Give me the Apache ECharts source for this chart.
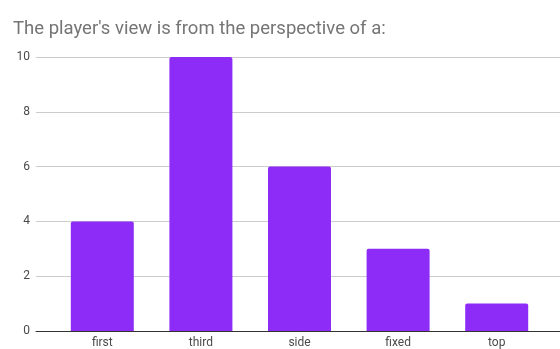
<!DOCTYPE html>
<html>
<head>
<meta charset="utf-8">
<script src="https://cdn.jsdelivr.net/npm/echarts@6/dist/echarts.min.js"></script>
<style>
  html, body { margin: 0; padding: 0; background: #fff; }
  #chart { width: 560px; height: 349px; }
</style>
</head>
<body>
<div id="chart"></div>
<script>
const titleText = "The player's view is from the perspective of a:";
const categories = ['first', 'third', 'side', 'fixed', 'top'];
const counts = [4, 10, 6, 3, 1];
const yTicks = [0, 2, 4, 6, 8, 10];

const chart = echarts.init(document.getElementById('chart'), null, { renderer: 'canvas' });

const font = 'Roboto, Arial, sans-serif';

chart.setOption({
  animation: false,
  title: {
    text: titleText,
    left: 13,
    top: 20,
    padding: 0,
    textStyle: { fontFamily: font, fontSize: 18.5, fontWeight: 'normal', color: '#757575' }
  },
  grid: [
    // full-width frame holding gridlines, y labels and the baseline
    { left: 36, right: 0, top: 57, bottom: 18 },
    // inner band where the bars sit
    { left: 53, right: 14, top: 57, bottom: 18 }
  ],
  xAxis: [
    {
      gridIndex: 0, type: 'value', min: 0, max: 1,
      axisLine: { show: true, onZero: false, lineStyle: { color: '#333', width: 1 } },
      axisTick: { show: false }, axisLabel: { show: false }, splitLine: { show: false }
    },
    {
      gridIndex: 1, type: 'category', data: categories,
      axisLine: { show: false }, axisTick: { show: false },
      axisLabel: { fontFamily: font, fontSize: 12, color: '#4a4a4a', margin: 6 }
    }
  ],
  yAxis: [
    {
      gridIndex: 0, type: 'value', min: yTicks[0], max: yTicks[yTicks.length - 1], interval: 2,
      axisLine: { show: false }, axisTick: { show: false },
      axisLabel: { fontFamily: font, fontSize: 12, color: '#4a4a4a', margin: 6 },
      splitLine: { show: true, lineStyle: { color: '#cccccc', width: 1 } }
    },
    {
      gridIndex: 1, type: 'value', min: yTicks[0], max: yTicks[yTicks.length - 1], interval: 2,
      axisLine: { show: false }, axisTick: { show: false },
      axisLabel: { show: false }, splitLine: { show: false }
    }
  ],
  series: [
    {
      type: 'bar',
      xAxisIndex: 1, yAxisIndex: 1,
      data: counts,
      barWidth: 63,
      itemStyle: { color: '#8e2cf7', borderRadius: [2, 2, 0, 0] }
    }
  ]
});
</script>
</body>
</html>
